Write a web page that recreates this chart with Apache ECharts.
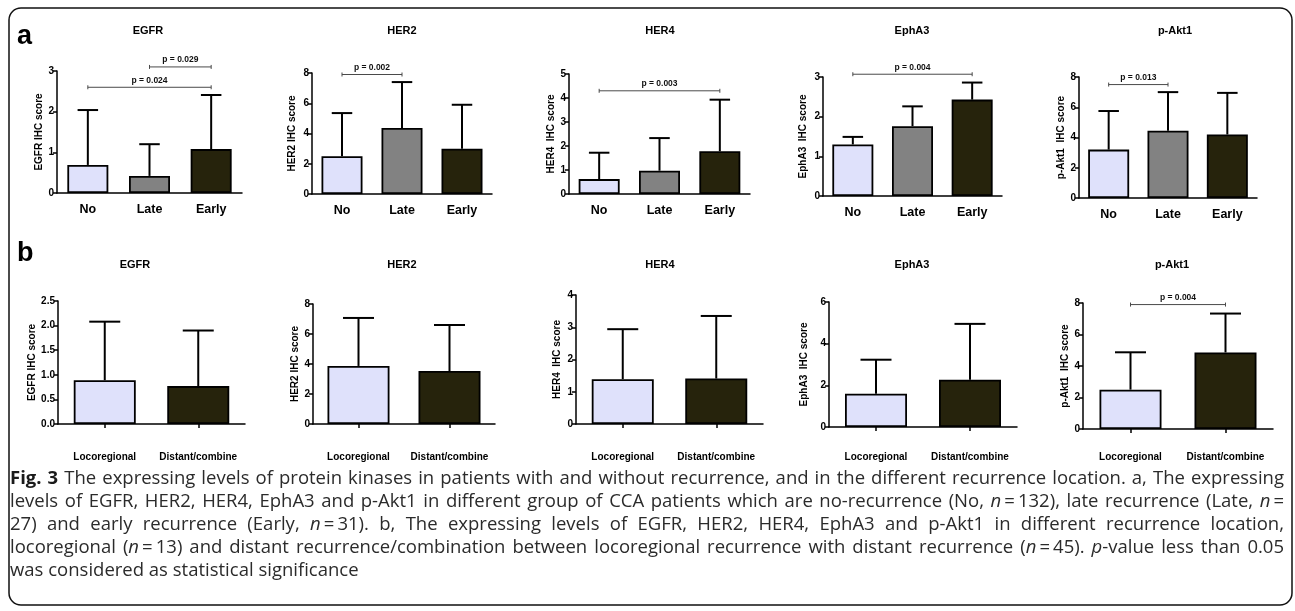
<!DOCTYPE html>
<html><head><meta charset="utf-8">
<script src="https://cdn.jsdelivr.net/npm/echarts@6/dist/echarts.min.js"></script>
<style>html,body{margin:0;padding:0;background:#fff}#c{width:1295px;height:611px}</style>
</head><body><div id="c"></div>
<script>
// ---------------- data ----------------
const markers = ['EGFR', 'HER2', 'HER4', 'EphA3', 'p-Akt1'];
const recurrenceGroups = ['No', 'Late', 'Early'];
const locationGroups = ['Locoregional', 'Distant/combine'];
const scoreNamesA = ['EGFR IHC score', 'HER2 IHC score', 'HER4  IHC score', 'EphA3  IHC score', 'p-Akt1  IHC score'];
const scoreNamesB = ['EGFR IHC score', 'HER2 IHC score', 'HER4  IHC score', 'EphA3  IHC score', 'p-Akt1  IHC score'];
// panel a: mean and mean+SD for No / Late / Early
const meansA = [[0.69, 0.42, 1.08], [2.5, 4.37, 3.0], [0.62, 0.97, 1.78], [1.3, 1.76, 2.43], [3.2, 4.45, 4.2]];
const upperA = [[2.04, 1.2, 2.41], [5.35, 7.4, 5.9], [1.72, 2.33, 3.93], [1.49, 2.26, 2.86], [5.75, 7.0, 6.95]];
// panel b: mean and mean+SD for Locoregional / Distant
const meansB = [[0.89, 0.77], [3.87, 3.53], [1.39, 1.41], [1.6, 2.27], [2.5, 4.86]];
const upperB = [[2.08, 1.9], [7.07, 6.6], [2.94, 3.35], [3.23, 4.95], [4.87, 7.33]];
// y axis ranges
const maxA = [3, 8, 5, 3, 8];
const stepA = [1, 2, 1, 1, 2];
const maxB = [2.5, 8, 4, 6, 8];
const stepB = [0.5, 2, 1, 2, 2];
// significance brackets: [from group, to group, level, label]
const bracketsA = [[[0, 2, 2.6, 'p = 0.024'], [1, 2, 3.1, 'p = 0.029']], [[0, 1, 7.9, 'p = 0.002']], [[0, 2, 4.3, 'p = 0.003']], [[0, 2, 3.07, 'p = 0.004']], [[0, 1, 7.5, 'p = 0.013']]];
const bracketsB = [[], [], [], [], [[0, 1, 7.9, 'p = 0.004']]];
const captionLines = [
  '**Fig. 3** The expressing levels of protein kinases in patients with and without recurrence, and in the different recurrence location. a, The expressing',
  'levels of EGFR, HER2, HER4, EphA3 and p-Akt1 in different group of CCA patients which are no-recurrence (No, *n*\u2009=\u2009132), late recurrence (Late, *n*\u2009=',
  '27) and early recurrence (Early, *n*\u2009=\u200931). b, The expressing levels of EGFR, HER2, HER4, EphA3 and p-Akt1 in different recurrence location,',
  'locoregional (*n*\u2009=\u200913) and distant recurrence/combination between locoregional recurrence with distant recurrence (*n*\u2009=\u200945). *p*-value less than 0.05',
  'was considered as statistical significance'
];

// ---------------- layout & style ----------------
const FONT = '"Liberation Sans", Arial, Helvetica, sans-serif';
const CAP_FONT = '"Open Sans", "Noto Sans", sans-serif';
const COLORS_A = ['#dfe1fb', '#828282', '#26230c'];
const COLORS_B = ['#dfe1fb', '#26230c'];
const layoutA = [
  {left: 57, top: 71, width: 185, height: 122, nameGap: 13, cx: 148},
  {left: 312, top: 73, width: 180, height: 121, nameGap: 15, cx: 402},
  {left: 569, top: 74, width: 181, height: 120, nameGap: 13, cx: 660},
  {left: 823, top: 77, width: 179, height: 119, nameGap: 15, cx: 912},
  {left: 1079, top: 77, width: 178, height: 121, nameGap: 12, cx: 1175}
];
const layoutB = [
  {left: 58, top: 301, width: 187, height: 123, nameGap: 20, cx: 135, lm: 28},
  {left: 313, top: 304, width: 182, height: 120, nameGap: 12, cx: 402, lm: 28},
  {left: 576, top: 295, width: 187, height: 129, nameGap: 14, cx: 660, lm: 28},
  {left: 829, top: 302, width: 188, height: 125, nameGap: 20, cx: 912, lm: 25},
  {left: 1083, top: 303, width: 190, height: 126, nameGap: 8, cx: 1172, lm: 23}
];

const grids = [], xAxes = [], yAxes = [], series = [], graphics = [];

function errRender(capHalf) {
  return function (params, api) {
    const x = api.value(0), m = api.value(1), u = api.value(2);
    const p0 = api.coord([x, m]), p1 = api.coord([x, u]);
    return {type: 'group', children: [
      {type: 'line', shape: {x1: p0[0], y1: p0[1], x2: p1[0], y2: p1[1]}, style: {stroke: '#000', lineWidth: 2}},
      {type: 'line', shape: {x1: p1[0] - capHalf, y1: p1[1], x2: p1[0] + capHalf, y2: p1[1]}, style: {stroke: '#000', lineWidth: 2}}
    ]};
  };
}
function bracketRender(list) {
  return function (params, api) {
    const b = list[params.dataIndex];
    const p1 = api.coord([b[0], b[2]]), p2 = api.coord([b[1], b[2]]);
    const st = {stroke: '#4a4a4a', lineWidth: 1};
    return {type: 'group', children: [
      {type: 'line', shape: {x1: p1[0], y1: p1[1], x2: p2[0], y2: p2[1]}, style: st},
      {type: 'line', shape: {x1: p1[0], y1: p1[1] - 2, x2: p1[0], y2: p1[1] + 2}, style: st},
      {type: 'line', shape: {x1: p2[0], y1: p2[1] - 2, x2: p2[0], y2: p2[1] + 2}, style: st},
      {type: 'text', style: {text: b[3], x: (p1[0] + p2[0]) / 2, y: p1[1] - 2.5, align: 'center', textAlign: 'center',
        verticalAlign: 'bottom', textVerticalAlign: 'bottom', font: 'bold 8.5px ' + FONT, fill: '#111'}}
    ]};
  };
}

function addPanel(idx, lay, cats, means, upper, max, step, yName, brackets, colors, rowB) {
  grids.push({left: lay.left, top: lay.top, width: lay.width, height: lay.height, containLabel: false});
  xAxes.push({
    type: 'category', gridIndex: idx, data: cats, boundaryGap: true,
    axisLine: {show: true, lineStyle: {color: '#000', width: 1.5}},
    axisTick: {show: rowB, alignWithLabel: true, length: 4, lineStyle: {color: '#000', width: 1.5}},
    axisLabel: {color: '#000', fontWeight: 'bold', fontFamily: FONT, fontSize: rowB ? 10 : 12.5, margin: rowB ? lay.lm : 10, interval: 0},
    splitLine: {show: false}
  });
  yAxes.push({
    type: 'value', gridIndex: idx, min: 0, max: max, interval: step,
    name: yName, nameLocation: 'middle', nameGap: lay.nameGap,
    nameTextStyle: {color: '#000', fontWeight: 'bold', fontFamily: FONT, fontSize: 10},
    axisLine: {show: true, lineStyle: {color: '#000', width: 1.5}},
    axisTick: {show: true, length: 4, lineStyle: {color: '#000', width: 1.5}},
    axisLabel: {color: '#000', fontWeight: 'bold', fontFamily: FONT, fontSize: 10, margin: 3,
      formatter: step < 1 ? (v => v.toFixed(1)) : (v => String(v))},
    splitLine: {show: false}
  });
  const bw = rowB ? 62 : 41;
  series.push({
    type: 'bar', xAxisIndex: idx, yAxisIndex: idx, barWidth: bw,
    data: means.map((v, j) => ({value: v, itemStyle: {color: colors[j]}})),
    itemStyle: {borderColor: '#000', borderWidth: 1.8}, silent: true, z: 2
  });
  series.push({
    type: 'custom', xAxisIndex: idx, yAxisIndex: idx, renderItem: errRender(bw / 4), z: 3,
    data: means.map((v, j) => [j, v, upper[j]]), encode: {x: 0, y: [1, 2]}, silent: true
  });
  if (brackets.length) {
    series.push({
      type: 'custom', xAxisIndex: idx, yAxisIndex: idx, renderItem: bracketRender(brackets), z: 4, clip: false,
      data: brackets.map(b => [b[0], b[1], b[2]]), encode: {x: [0, 1], y: 2}, silent: true
    });
  }
  graphics.push({type: 'text', style: {text: markers[idx % 5], x: lay.cx, y: rowB ? 265 : 31, align: 'center', textAlign: 'center',
    verticalAlign: 'middle', textVerticalAlign: 'middle', font: 'bold 11px ' + FONT, fill: '#000'}});
}

for (let i = 0; i < 5; i++) {
  addPanel(i, layoutA[i], recurrenceGroups, meansA[i], upperA[i], maxA[i], stepA[i], scoreNamesA[i], bracketsA[i], COLORS_A, false);
}
for (let i = 0; i < 5; i++) {
  addPanel(i + 5, layoutB[i], locationGroups, meansB[i], upperB[i], maxB[i], stepB[i], scoreNamesB[i], bracketsB[i], COLORS_B, true);
}

// frame and panel letters
graphics.push({type: 'rect', shape: {x: 9, y: 8, width: 1283, height: 597, r: 12}, style: {fill: 'none', stroke: '#111', lineWidth: 1.5}, z: -1});
graphics.push({type: 'text', style: {text: 'a', x: 17, y: 37, verticalAlign: 'middle', textVerticalAlign: 'middle', font: 'bold 27px ' + FONT, fill: '#000'}});
graphics.push({type: 'text', style: {text: 'b', x: 17, y: 254, verticalAlign: 'middle', textVerticalAlign: 'middle', font: 'bold 27px ' + FONT, fill: '#000'}});

// caption, justified (words placed one by one, condensed horizontally if needed)
(function () {
  const ctx = document.createElement('canvas').getContext('2d');
  const X0 = 10, X1 = 1284, Y0 = 479, LH = 23, FS = 18.5;
  function parseLine(s) {
    const segs = []; const re = /\*\*(.+?)\*\*|\*(.+?)\*|([^*]+)/g; let m;
    while ((m = re.exec(s))) {
      if (m[1] !== undefined) segs.push({t: m[1], w: 'b'});
      else if (m[2] !== undefined) segs.push({t: m[2], w: 'i'});
      else segs.push({t: m[3], w: 'r'});
    }
    const words = [[]];
    segs.forEach(sg => { sg.t.split(' ').forEach((p, k) => { if (k > 0) words.push([]); if (p) words[words.length - 1].push({t: p, w: sg.w}); }); });
    return words.filter(w => w.length);
  }
  function fontOf(w) { return (w === 'b' ? 'bold ' : w === 'i' ? 'italic ' : '') + FS + 'px ' + CAP_FONT; }
  function meas(t, w) { ctx.font = fontOf(w); return ctx.measureText(t).width; }
  const parsed = captionLines.map(parseLine);
  const space = meas(' ', 'r');
  let sx = 1;
  for (let k = 0; k < parsed.length - 1; k++) {
    const words = parsed[k];
    const nw = words.reduce((a, wd) => a + wd.reduce((b, p) => b + meas(p.t, p.w), 0), 0) + (words.length - 1) * space * 0.85;
    sx = Math.min(sx, (X1 - X0) / nw);
  }
  const rich = {
    r: {font: fontOf('r'), fill: '#2b2b2b'},
    b: {font: fontOf('b'), fill: '#1a1a1a'},
    i: {font: fontOf('i'), fill: '#2b2b2b'}
  };
  parsed.forEach((words, li) => {
    const widths = words.map(wd => wd.reduce((b, p) => b + meas(p.t, p.w), 0) * sx);
    const total = widths.reduce((a, b) => a + b, 0);
    const last = li === parsed.length - 1;
    const gap = last ? space * sx : (X1 - X0 - total) / (words.length - 1);
    let x = X0;
    words.forEach((wd, k) => {
      graphics.push({type: 'text', silent: true, x: x, y: Y0 + li * LH, scaleX: sx, style: {
        text: wd.map(p => '{' + p.w + '|' + p.t + '}').join(''), rich: rich,
        x: 0, y: 0, verticalAlign: 'middle', textVerticalAlign: 'middle', font: fontOf('r'), fill: '#2b2b2b'}});
      x += widths[k] + gap;
    });
  });
})();

const chart = echarts.init(document.getElementById('c'), null, {renderer: 'canvas'});
chart.setOption({
  animation: false, backgroundColor: '#fff',
  grid: grids, xAxis: xAxes, yAxis: yAxes, series: series, graphic: graphics
});
</script></body></html>
